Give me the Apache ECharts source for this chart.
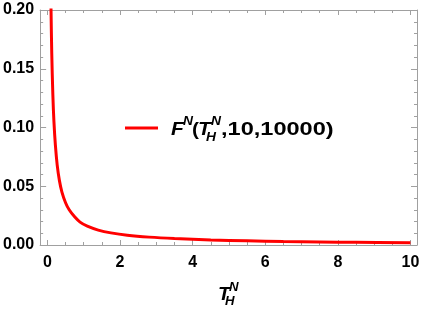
<!DOCTYPE html>
<html>
<head>
<meta charset="utf-8">
<script src="https://cdn.jsdelivr.net/npm/echarts@6/dist/echarts.min.js"></script>
<style>
html,body{margin:0;padding:0;background:#fff;}
#chart{width:426px;height:314px;}
</style>
</head>
<body>
<div id="chart"></div>
<script>
const xValues = [0.09, 0.1, 0.12, 0.15, 0.18, 0.22, 0.27, 0.33, 0.4, 0.5, 0.6, 0.75, 0.9, 1.1, 1.4, 1.75, 2.2, 2.8, 3.5, 4.5, 5.5, 6.5, 7.5, 8.5, 10];
const yValues = [0.222, 0.2, 0.163, 0.128, 0.105, 0.085, 0.068, 0.055, 0.045, 0.036, 0.030, 0.024, 0.0195, 0.016, 0.0127, 0.0103, 0.0083, 0.0067, 0.0055, 0.0043, 0.0036, 0.0030, 0.0026, 0.0023, 0.0020];
const xMajorTicks = [0, 2, 4, 6, 8, 10];
const xMinorTicks = [0,0.5,1,1.5,2,2.5,3,3.5,4,4.5,5,5.5,6,6.5,7,7.5,8,8.5,9,9.5,10];
const yTickLabels = ['0.00', '0.05', '0.10', '0.15', '0.20'];

const FRAME = '#a0a0a0';
const FONT = '"Liberation Sans", Arial, sans-serif';
const data = xValues.map((x, i) => [x, yValues[i]]);

const xRange = {min: -0.2, max: 10.18};
function xAxisDef(pos, ticks, len, labels, showLine) {
  return {
    type: 'value', position: pos, min: xRange.min, max: xRange.max,
    axisLine: {show: showLine, onZero: false, lineStyle: {color: FRAME, width: 1}},
    axisTick: {show: true, inside: true, length: len, customValues: ticks, lineStyle: {color: FRAME}},
    axisLabel: labels ? {show: true, customValues: xMajorTicks, color: '#000', fontWeight: 'bold', fontSize: 16, fontFamily: FONT, margin: 10} : {show: false},
    splitLine: {show: false}
  };
}
function yAxisDef(pos, labels) {
  return {
    type: 'value', position: pos, min: 0, max: 0.2, interval: 0.05,
    axisLine: {show: true, onZero: false, lineStyle: {color: FRAME, width: 1}},
    axisTick: {show: true, inside: true, length: 6, lineStyle: {color: FRAME}},
    minorTick: {show: true, splitNumber: 5, length: 3, lineStyle: {color: FRAME}},
    axisLabel: labels ? {show: true, color: '#000', fontWeight: 'bold', fontSize: 16, fontFamily: FONT, margin: 6,
      formatter: v => yTickLabels[Math.round(v / 0.05)]} : {show: false},
    splitLine: {show: false}, minorSplitLine: {show: false}
  };
}

const chart = echarts.init(document.getElementById('chart'), null, {renderer: 'canvas'});
const bi = 'italic bold 19px ' + FONT;
const b = 'bold 19px ' + FONT;
const biS = 'italic bold 12px ' + FONT;
const txt = (x, y, text, font, sx) => ({type: 'text', x: x, y: y, scaleX: sx || 1.15, z: 100,
  style: {x: 0, y: 0, text: text, font: font, fill: '#000', textAlign: 'left', textVerticalAlign: 'middle'}});

chart.setOption({
  animation: false,
  grid: {left: 39, right: 9, top: 10, bottom: 69},
  xAxis: [
    xAxisDef('bottom', xMajorTicks, 5, true, true),
    xAxisDef('bottom', xMinorTicks, 3, false, false),
    xAxisDef('top', xMajorTicks, 5, false, true),
    xAxisDef('top', xMinorTicks, 3, false, false)
  ],
  yAxis: [yAxisDef('left', true), yAxisDef('right', false)],
  series: [{
    type: 'line', name: 'F', data: data, xAxisIndex: 0, yAxisIndex: 0,
    showSymbol: false, smooth: 0.35, clip: true,
    lineStyle: {color: '#ff0000', width: 3}
  }],
  graphic: [
    {type: 'line', shape: {x1: 125, y1: 128, x2: 158, y2: 128}, style: {stroke: '#ff0000', lineWidth: 3}},
    txt(171, 129.5, 'F', bi, 1.1),
    txt(183, 121.5, 'N', biS),
    txt(192, 129.5, '(', b, 1.1),
    txt(198, 129.5, 'T', bi, 1.1),
    txt(211, 121.5, 'N', biS),
    txt(206, 137.5, 'H', biS),
    txt(221, 129.5, ',10,10000)', b, 1.24),
    txt(218, 295, 'T', bi, 1.05),
    txt(229, 287.5, 'N', biS, 1.1),
    txt(225, 302, 'H', biS, 1.1)
  ]
});
</script>
</body>
</html>
